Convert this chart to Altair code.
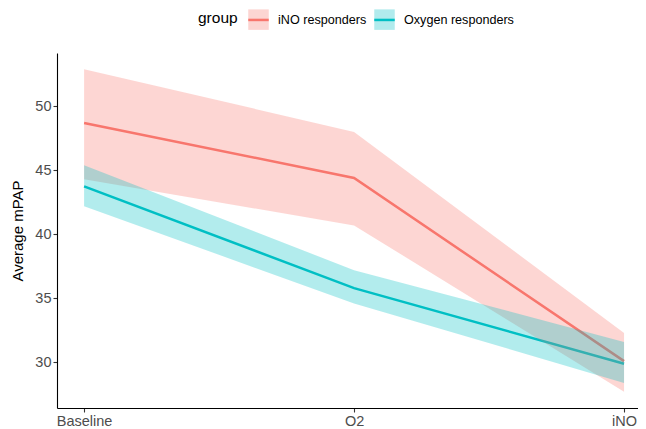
import altair as alt
import pandas as pd

timepoints = ["Baseline", "O2", "iNO"]
groups = ["iNO responders", "Oxygen responders"]
ino_mean = [48.7, 44.4, 30.1]
ino_lower = [44.3, 40.7, 27.7]
ino_upper = [52.9, 48.0, 32.3]
oxy_mean = [43.75, 35.8, 29.9]
oxy_lower = [42.2, 34.6, 28.4]
oxy_upper = [45.4, 37.2, 31.6]
y_ticks = [30, 35, 40, 45, 50]
legend_title = ["group"]
line_colors = ["#F8766D", "#00BFC4"]

rows = []
for g, m, lo, hi in zip(groups, [ino_mean, oxy_mean], [ino_lower, oxy_lower], [ino_upper, oxy_upper]):
    for t, a, b, c in zip(timepoints, m, lo, hi):
        rows.append({"time": t, "group": g, "mean": a, "lower": b, "upper": c})
df = pd.DataFrame(rows)
title_df = pd.DataFrame({"label": legend_title})

FONT = "Liberation Sans"

x_enc = alt.X(
    "time:N",
    sort=timepoints,
    scale=alt.Scale(type="point", padding=0.076, align=0.66),
    axis=alt.Axis(title=None, labelAngle=0, labelPadding=2),
)
y_scale = alt.Scale(domain=[26.44, 54.16], nice=False, zero=False)

common_legend = dict(
    orient="none",
    legendX=190,
    legendY=-45,
    direction="horizontal",
    title=None,
)

lines = alt.Chart(df).mark_line(strokeWidth=2.5).encode(
    x=x_enc,
    y=alt.Y("mean:Q", scale=y_scale, axis=alt.Axis(values=y_ticks, title="Average mPAP", titlePadding=9)),
    stroke=alt.Stroke(
        "group:N",
        scale=alt.Scale(domain=groups, range=line_colors),
        legend=alt.Legend(
            symbolType="stroke",
            symbolStrokeWidth=2.5,
            labelOpacity=0,
            **common_legend,
        ),
    ),
)

bands = alt.Chart(df).mark_area(fillOpacity=0.3).encode(
    x=x_enc,
    y=alt.Y("lower:Q", scale=y_scale),
    y2="upper:Q",
    fill=alt.Fill(
        "group:N",
        sort=groups,
        scale=alt.Scale(range=line_colors),
        legend=alt.Legend(
            symbolType="square",
            symbolOpacity=0.3,
            symbolStrokeWidth=2.5,
            symbolStrokeColor="transparent",
            **common_legend,
        ),
    ),
)

legend_heading = alt.Chart(title_df).mark_text(
    align="left", baseline="middle", font=FONT, fontSize=15.5, color="black"
).encode(
    x=alt.value(141),
    y=alt.value(-35),
    text="label:N",
)

chart = (
    alt.layer(lines, bands, legend_heading)
    .resolve_legend(fill="independent", stroke="independent")
    .properties(
        width=581,
        height=355,
        autosize=alt.AutoSizeParams(type="none"),
        padding={"left": 49, "top": 45, "right": 0, "bottom": 20},
    )
    .configure_view(stroke=None)
    .configure_axis(
        grid=False,
        domainColor="black",
        domainWidth=1.1,
        tickColor="#333333",
        tickWidth=1.1,
        tickSize=4,
        labelColor="#4D4D4D",
        labelFont=FONT,
        labelFontSize=14.5,
        titleFont=FONT,
        titleFontSize=15,
        titleFontWeight="normal",
        titleColor="black",
    )
    .configure_legend(
        padding=0,
        labelFont=FONT,
        labelFontSize=12.6,
        labelColor="black",
        labelOffset=8,
        columnPadding=2,
        symbolSize=420,
    )
)

chart.save("out.html", embed_options={"renderer": "svg", "actions": False})
